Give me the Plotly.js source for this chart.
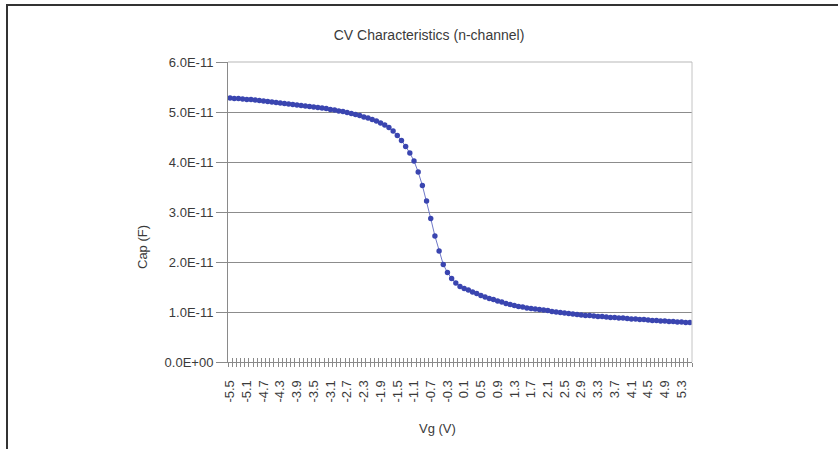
<!DOCTYPE html>
<html>
<head>
<meta charset="utf-8">
<script src="https://cdn.plot.ly/plotly-3.0.1.min.js"></script>
<style>
  html, body { margin: 0; padding: 0; background: #ffffff; }
  #wrap { position: relative; width: 838px; height: 449px; overflow: hidden; }
  #chart { position: absolute; left: 0; top: 0; width: 838px; height: 449px; }
  #frame { position: absolute; left: 6px; top: 4px; width: 840px; height: 460px;
           border-top: 2px solid #333333; border-left: 2px solid #333333; pointer-events: none; }
</style>
</head>
<body>
<div id="wrap">
  <div id="chart"></div>
  <div id="frame"></div>
</div>
<script>
// Gate voltage (V), one category per 0.1 V
const vg = [
  -5.5,-5.4,-5.3,-5.2,-5.1,-5.0,-4.9,-4.8,-4.7,-4.6,
  -4.5,-4.4,-4.3,-4.2,-4.1,-4.0,-3.9,-3.8,-3.7,-3.6,
  -3.5,-3.4,-3.3,-3.2,-3.1,-3.0,-2.9,-2.8,-2.7,-2.6,
  -2.5,-2.4,-2.3,-2.2,-2.1,-2.0,-1.9,-1.8,-1.7,-1.6,
  -1.5,-1.4,-1.3,-1.2,-1.1,-1.0,-0.9,-0.8,-0.7,-0.6,
  -0.5,-0.4,-0.3,-0.2,-0.1,0.0,0.1,0.2,0.3,0.4,
  0.5,0.6,0.7,0.8,0.9,1.0,1.1,1.2,1.3,1.4,
  1.5,1.6,1.7,1.8,1.9,2.0,2.1,2.2,2.3,2.4,
  2.5,2.6,2.7,2.8,2.9,3.0,3.1,3.2,3.3,3.4,
  3.5,3.6,3.7,3.8,3.9,4.0,4.1,4.2,4.3,4.4,
  4.5,4.6,4.7,4.8,4.9,5.0,5.1,5.2,5.3,5.4,
  5.5
];

// Capacitance in units of 1E-11 F
const capE11 = [
  5.28,5.27,5.27,5.26,5.25,5.25,5.24,5.23,5.22,5.21,
  5.20,5.19,5.18,5.17,5.16,5.15,5.14,5.13,5.12,5.11,
  5.10,5.09,5.08,5.07,5.05,5.04,5.02,5.01,4.99,4.97,
  4.95,4.93,4.90,4.88,4.85,4.82,4.78,4.74,4.69,4.62,
  4.53,4.43,4.31,4.18,4.02,3.80,3.53,3.22,2.87,2.52,
  2.22,1.95,1.79,1.67,1.58,1.51,1.47,1.44,1.40,1.37,
  1.33,1.30,1.27,1.25,1.22,1.20,1.17,1.15,1.13,1.11,
  1.10,1.08,1.07,1.06,1.05,1.04,1.03,1.01,1.00,0.99,
  0.98,0.97,0.96,0.95,0.94,0.93,0.93,0.92,0.91,0.91,
  0.90,0.89,0.89,0.88,0.88,0.87,0.86,0.86,0.85,0.85,
  0.84,0.83,0.83,0.82,0.82,0.81,0.81,0.80,0.80,0.79,
  0.79
];

// X tick labels (every 4th category)
const xTickVals = [-5.5,-5.1,-4.7,-4.3,-3.9,-3.5,-3.1,-2.7,-2.3,-1.9,-1.5,-1.1,-0.7,-0.3,
                   0.1,0.5,0.9,1.3,1.7,2.1,2.5,2.9,3.3,3.7,4.1,4.5,4.9,5.3];
const xTickText = ["-5.5","-5.1","-4.7","-4.3","-3.9","-3.5","-3.1","-2.7","-2.3","-1.9","-1.5","-1.1","-0.7","-0.3",
                   "0.1","0.5","0.9","1.3","1.7","2.1","2.5","2.9","3.3","3.7","4.1","4.5","4.9","5.3"];

// Y tick labels
const yTickVals = [0, 1e-11, 2e-11, 3e-11, 4e-11, 5e-11, 6e-11];
const yTickText = ["0.0E+00","1.0E-11","2.0E-11","3.0E-11","4.0E-11","5.0E-11","6.0E-11"];

const cap = capE11.map(v => v * 1e-11);

const font = "Liberation Sans, Arial, sans-serif";
const axisGray = "#8a8a8a";
const textColor = "#3a3a3a";

const trace = {
  x: vg, y: cap, type: "scatter", mode: "lines+markers",
  line: { color: "#6f78c8", width: 1 },
  marker: { color: "#3a45b0", size: 5.4 },
  hoverinfo: "skip", showlegend: false
};

const layout = {
  width: 838, height: 449,
  margin: { l: 228, r: 146, t: 62, b: 87 },
  paper_bgcolor: "#ffffff", plot_bgcolor: "#ffffff",
  font: { family: font, size: 13, color: textColor },
  title: { text: "CV Characteristics (n-channel)", font: { family: font, size: 14, color: textColor },
           x: 429 / 838, xanchor: "center", y: 1 - 35 / 449, yanchor: "middle" },
  xaxis: {
    range: [-5.55, 5.55], tickvals: xTickVals, ticktext: xTickText, tickangle: -90,
    ticks: "", showgrid: false, zeroline: false, ticklabelstandoff: 12,
    showline: true, linecolor: axisGray, linewidth: 1, mirror: false,
    tickfont: { family: font, size: 13, color: textColor },
    minor: { tick0: -5.55, dtick: 0.1, ticks: "outside", ticklen: 4, tickcolor: axisGray, tickwidth: 1, showgrid: false }
  },
  xaxis2: {
    overlaying: "x", matches: "x", anchor: "y", side: "bottom",
    range: [-5.55, 5.55], tick0: -5.55, dtick: 0.1, ticks: "inside", ticklen: 4,
    tickcolor: axisGray, tickwidth: 1, showticklabels: false, showgrid: false, zeroline: false, showline: false
  },
  yaxis: {
    range: [0, 6e-11], tickvals: yTickVals, ticktext: yTickText,
    ticks: "outside", ticklen: 11, tickcolor: axisGray,
    showgrid: true, gridcolor: "#8c8c8c", gridwidth: 1, zeroline: false,
    showline: true, linecolor: axisGray, linewidth: 1,
    tickfont: { family: font, size: 13, color: textColor }
  },
  annotations: [
    { text: "Vg (V)", xref: "paper", yref: "paper", x: (437 - 228) / 464, y: (362 - 428) / 300,
      xanchor: "center", yanchor: "middle", showarrow: false,
      font: { family: font, size: 13, color: textColor } },
    { text: "Cap (F)", xref: "paper", yref: "paper", x: (142 - 228) / 464, y: (362 - 247) / 300,
      xanchor: "center", yanchor: "middle", showarrow: false, textangle: -90,
      font: { family: font, size: 13, color: textColor } }
  ],
  shapes: [
    { type: "line", xref: "paper", yref: "paper", x0: 1, x1: 1, y0: 0, y1: 1,
      line: { color: "#c4c4c4", width: 1 } },
    { type: "line", xref: "paper", yref: "paper", x0: 0, x1: 1, y0: 1, y1: 1,
      line: { color: "#b8b8b8", width: 1.2 } }
  ]
};

const dummy = { x: [-5.5], y: [0], xaxis: "x2", yaxis: "y", mode: "markers",
  marker: { opacity: 0 }, hoverinfo: "skip", showlegend: false };

Plotly.newPlot("chart", [dummy, trace], layout, { staticPlot: true, displayModeBar: false });
</script>
</body>
</html>
